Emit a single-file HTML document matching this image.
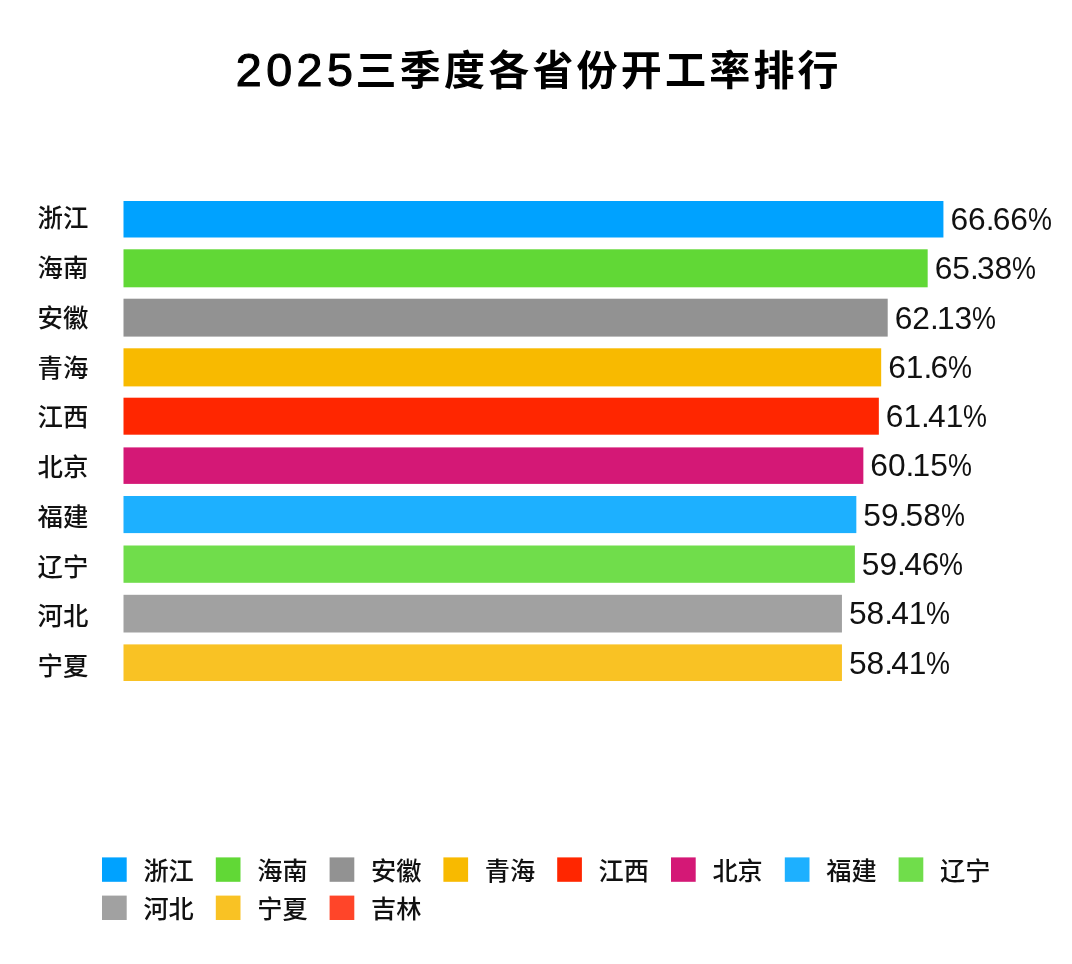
<!DOCTYPE html>
<html lang="zh-CN">
<head>
<meta charset="utf-8">
<title>2025三季度各省份开工率排行</title>
<style>
html,body{margin:0;padding:0;background:#fff;}
body{width:1072px;height:964px;position:relative;overflow:hidden;font-family:"Liberation Sans","Noto Sans CJK SC",sans-serif;color:#000;}
.title{position:absolute;left:0;top:0;width:1072px;height:120px;margin:0;font-weight:normal;font-size:41px;}
.title span{position:absolute;white-space:nowrap;height:60px;line-height:60px;}
.title .n{left:235.8px;top:39.7px;font-size:46.6px;letter-spacing:4.45px;font-weight:400;-webkit-text-stroke:1.1px #000;}
.title .c{left:355.6px;top:40.8px;font-size:41px;letter-spacing:3.2px;font-weight:700;}
svg.shapes{position:absolute;left:0;top:0;width:1072px;height:964px;display:block;}
.lab{position:absolute;left:37.5px;width:60px;height:37px;line-height:37px;font-size:25.4px;white-space:nowrap;color:#111;font-weight:500;}
.val{position:absolute;height:37px;line-height:37px;font-size:31.7px;white-space:nowrap;color:#111;}
.val .dot{letter-spacing:-1.8px;}
.val .pc{display:inline-block;transform:scaleX(0.85);transform-origin:0 50%;}
.lt{position:absolute;height:30px;line-height:30px;font-size:25.2px;white-space:nowrap;color:#111;font-weight:500;}
</style>
</head>
<body>
<h1 class="title"><span class="n">2025</span><span class="c">三季度各省份开工率排行</span></h1>
<svg class="shapes" width="1072" height="964" viewBox="0 0 1072 964" aria-hidden="true">
<rect x="123.5" y="201.00" width="819.92" height="36.50" fill="#00A2FF"/>
<rect x="123.5" y="249.30" width="804.17" height="38.00" fill="#61D836"/>
<rect x="123.5" y="298.70" width="764.20" height="37.90" fill="#929292"/>
<rect x="123.5" y="348.30" width="757.68" height="38.10" fill="#F8BA00"/>
<rect x="123.5" y="397.70" width="755.34" height="37.00" fill="#FF2600"/>
<rect x="123.5" y="447.40" width="739.85" height="36.50" fill="#D41876"/>
<rect x="123.5" y="496.00" width="732.83" height="37.10" fill="#1DB0FF"/>
<rect x="123.5" y="545.50" width="731.36" height="37.30" fill="#70DD4B"/>
<rect x="123.5" y="594.80" width="718.44" height="37.70" fill="#A1A1A1"/>
<rect x="123.5" y="644.40" width="718.44" height="36.60" fill="#F9C224"/>
<rect x="102.00" y="857.40" width="24.7" height="24.4" fill="#00A2FF"/>
<rect x="215.80" y="857.40" width="24.7" height="24.4" fill="#61D836"/>
<rect x="329.60" y="857.40" width="24.7" height="24.4" fill="#929292"/>
<rect x="443.40" y="857.40" width="24.7" height="24.4" fill="#F8BA00"/>
<rect x="557.20" y="857.40" width="24.7" height="24.4" fill="#FF2600"/>
<rect x="671.00" y="857.40" width="24.7" height="24.4" fill="#D41876"/>
<rect x="784.80" y="857.40" width="24.7" height="24.4" fill="#1DB0FF"/>
<rect x="898.60" y="857.40" width="24.7" height="24.4" fill="#70DD4B"/>
<rect x="102.00" y="895.60" width="24.7" height="24.4" fill="#A1A1A1"/>
<rect x="215.80" y="895.60" width="24.7" height="24.4" fill="#F9C224"/>
<rect x="329.60" y="895.60" width="24.7" height="24.4" fill="#FF4529"/>
</svg>
<div class="lab" style="top:200.35px">浙江</div>
<div class="val" style="top:201.10px;left:950.42px">66<span class="dot">.</span>66<span class="pc">%</span></div>
<div class="lab" style="top:250.11px">海南</div>
<div class="val" style="top:250.37px;left:934.67px">65<span class="dot">.</span>38<span class="pc">%</span></div>
<div class="lab" style="top:299.87px">安徽</div>
<div class="val" style="top:299.64px;left:894.70px">62<span class="dot">.</span>13<span class="pc">%</span></div>
<div class="lab" style="top:349.63px">青海</div>
<div class="val" style="top:348.91px;left:888.18px">61<span class="dot">.</span>6<span class="pc">%</span></div>
<div class="lab" style="top:399.39px">江西</div>
<div class="val" style="top:398.18px;left:885.84px">61<span class="dot">.</span>41<span class="pc">%</span></div>
<div class="lab" style="top:449.15px">北京</div>
<div class="val" style="top:447.45px;left:870.35px">60<span class="dot">.</span>15<span class="pc">%</span></div>
<div class="lab" style="top:498.91px">福建</div>
<div class="val" style="top:496.72px;left:863.33px">59<span class="dot">.</span>58<span class="pc">%</span></div>
<div class="lab" style="top:548.67px">辽宁</div>
<div class="val" style="top:545.99px;left:861.86px">59<span class="dot">.</span>46<span class="pc">%</span></div>
<div class="lab" style="top:598.43px">河北</div>
<div class="val" style="top:595.26px;left:848.94px">58<span class="dot">.</span>41<span class="pc">%</span></div>
<div class="lab" style="top:648.19px">宁夏</div>
<div class="val" style="top:644.53px;left:848.94px">58<span class="dot">.</span>41<span class="pc">%</span></div>
<div class="lt" style="left:143.40px;top:856.00px">浙江</div>
<div class="lt" style="left:257.20px;top:856.00px">海南</div>
<div class="lt" style="left:371.00px;top:856.00px">安徽</div>
<div class="lt" style="left:484.80px;top:856.00px">青海</div>
<div class="lt" style="left:598.60px;top:856.00px">江西</div>
<div class="lt" style="left:712.40px;top:856.00px">北京</div>
<div class="lt" style="left:826.20px;top:856.00px">福建</div>
<div class="lt" style="left:940.00px;top:856.00px">辽宁</div>
<div class="lt" style="left:143.40px;top:893.80px">河北</div>
<div class="lt" style="left:257.20px;top:893.80px">宁夏</div>
<div class="lt" style="left:371.00px;top:893.80px">吉林</div>
</body>
</html>
